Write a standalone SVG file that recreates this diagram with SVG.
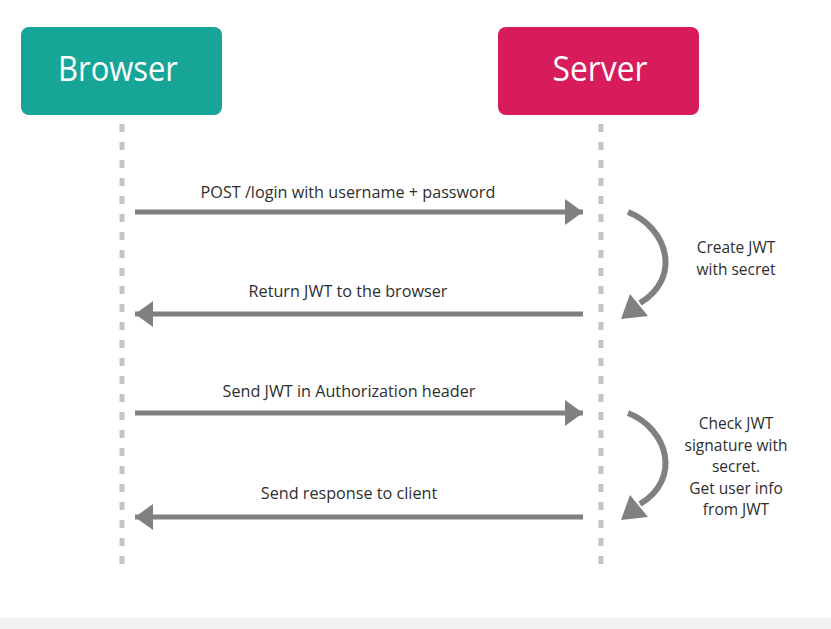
<svg xmlns="http://www.w3.org/2000/svg" width="831" height="629" viewBox="0 0 831 629">
<style>
.box-label{font-family:"Open Sans","Liberation Sans",sans-serif;font-size:34px;fill:#ffffff;text-anchor:middle}
.msg{font-family:"Open Sans","Liberation Sans",sans-serif;font-size:16.2px;fill:#2e2e2e;text-anchor:middle}
.note{font-family:"Open Sans","Liberation Sans",sans-serif;font-size:15.5px;fill:#2e2e2e;text-anchor:middle}
.life{stroke:#c4c4c4;stroke-width:5;stroke-dasharray:8 10;fill:none}
.arrow{stroke:#808080;stroke-width:5;fill:none}
.curve{stroke:#808080;stroke-width:6;fill:none}
.head{fill:#808080}
</style>
<defs>
<marker id="ah" markerUnits="userSpaceOnUse" markerWidth="20" markerHeight="26" refX="18" refY="13" orient="auto">
<path d="M0,0 L18,13 L0,26 Z" fill="#808080"/>
</marker>
</defs>
<rect width="831" height="629" fill="#ffffff"/>
<rect x="0" y="618" width="831" height="11" fill="#f2f2f2"/>
<g id="browser">
<rect x="21" y="27" width="201" height="88" rx="8" fill="#17a597"/>
<text class="box-label" x="118" y="81" textLength="120" lengthAdjust="spacingAndGlyphs">Browser</text>
</g>
<g id="server">
<rect x="498" y="27" width="201" height="88" rx="8" fill="#d81b5a"/>
<text class="box-label" x="600" y="81" textLength="95" lengthAdjust="spacingAndGlyphs">Server</text>
</g>
<g id="lifelines">
<line class="life" x1="122" y1="124" x2="122" y2="568"/>
<line class="life" x1="601" y1="124" x2="601" y2="568"/>
</g>
<g id="connectors">
<line class="arrow" x1="135" y1="212" x2="583" y2="212" marker-end="url(#ah)"/>
<line class="arrow" x1="583" y1="314" x2="135" y2="314" marker-end="url(#ah)"/>
<line class="arrow" x1="135" y1="413" x2="583" y2="413" marker-end="url(#ah)"/>
<line class="arrow" x1="583" y1="517" x2="135" y2="517" marker-end="url(#ah)"/>
<path class="curve" d="M628,212 C668,228 682,278 640,303"/>
<polygon class="head" points="621,319 630,294 648,316"/>
<path class="curve" d="M628,413 C668,429 682,479 640,504"/>
<polygon class="head" points="621,520 630,495 648,517"/>
</g>
<g id="labels">
<text class="msg" x="348" y="198">POST /login with username + password</text>
<text class="msg" x="348" y="297">Return JWT to the browser</text>
<text class="msg" x="349" y="397">Send JWT in Authorization header</text>
<text class="msg" x="349" y="499">Send response to client</text>
<text class="note" x="736" y="253">Create JWT</text>
<text class="note" x="736" y="275">with secret</text>
<text class="note" x="736" y="429">Check JWT</text>
<text class="note" x="736" y="451">signature with</text>
<text class="note" x="736" y="472">secret.</text>
<text class="note" x="736" y="494">Get user info</text>
<text class="note" x="736" y="515">from JWT</text>
</g>
</svg>
